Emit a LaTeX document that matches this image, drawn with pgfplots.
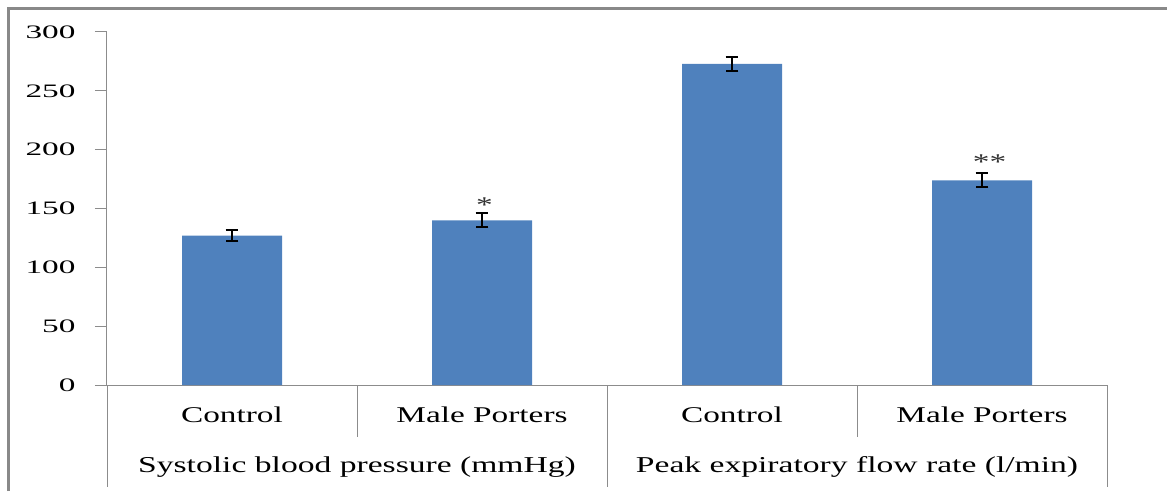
\documentclass[border=0pt]{standalone}
\usepackage{fontspec}
\setmainfont{Liberation Serif}[FakeStretch=1.48]
\newfontfamily\tickfont{Liberation Serif}[FakeStretch=1.75]
\usepackage{pgfplots}
\pgfplotsset{compat=1.18}
\definecolor{barblue}{HTML}{4F81BD}
\definecolor{axgray}{HTML}{8C8C8C}
\definecolor{framegray}{HTML}{898989}

\begin{document}
\begin{tikzpicture}[x=1pt,y=1pt]
% page area 1167 x 491 (1pt = 1px of the reference)
\path[use as bounding box] (0,0) rectangle (1167,491);
\draw[framegray, line width=2.5pt] (8.5,0) -- (8.5,482.5) -- (1167,482.5);

\begin{axis}[
  at={(232pt,106pt)}, anchor=origin,
  width=1000pt, height=353pt, scale only axis,
  xmin=-0.5, xmax=3.5, ymin=0, ymax=300,
  axis x line=bottom, axis y line=left,
  axis line style={axgray, -, line width=1pt},
  clip=false,
  ytick={0,50,...,300},
  tick align=outside,
  major tick length=12pt,
  y tick style={axgray, line width=1pt},
  x tick style={draw=none},
  xtick={0,1,2,3},
  xticklabels={Control, Male Porters, Control, Male Porters},
  xticklabel style={font=\fontsize{22.5}{27}\selectfont, anchor=base, yshift=-25pt},
  yticklabel style={font=\tickfont\fontsize{19}{23}\selectfont, xshift=-16pt},
  /pgf/number format/assume math mode=true,
]
\addplot[ybar, bar width=0.4, fill=barblue, draw=none,
  error bars/.cd, y dir=both, y explicit,
  error bar style={black, line width=2pt},
  error mark options={black, rotate=90, mark size=6.3pt, line width=2pt}]
  coordinates {
    (0,127) +- (0,5)
    (1,140) +- (0,6)
    (2,273) +- (0,6)
    (3,174) +- (0,6)
  };
\node[anchor=base, font=\fontsize{22.5}{27}\selectfont, text=black!80] at (axis cs:1.01,147) {*};
\node[anchor=base, font=\fontsize{22.5}{27}\selectfont, text=black!80] at (axis cs:3.03,183) {**};
\end{axis}

% category group separators
\draw[axgray, line width=1pt] (107,106) -- (107,4);
\draw[axgray, line width=1pt] (357,106) -- (357,54);
\draw[axgray, line width=1pt] (607,106) -- (607,4);
\draw[axgray, line width=1pt] (857,106) -- (857,54);
\draw[axgray, line width=1pt] (1107,106) -- (1107,4);

\node[anchor=base, font=\fontsize{22.7}{27}\selectfont] at (357,19) {Systolic blood pressure (mmHg)};
\node[anchor=base, font=\fontsize{22.7}{27}\selectfont] at (857,19) {Peak expiratory flow rate (l/min)};
\end{tikzpicture}
\end{document}
